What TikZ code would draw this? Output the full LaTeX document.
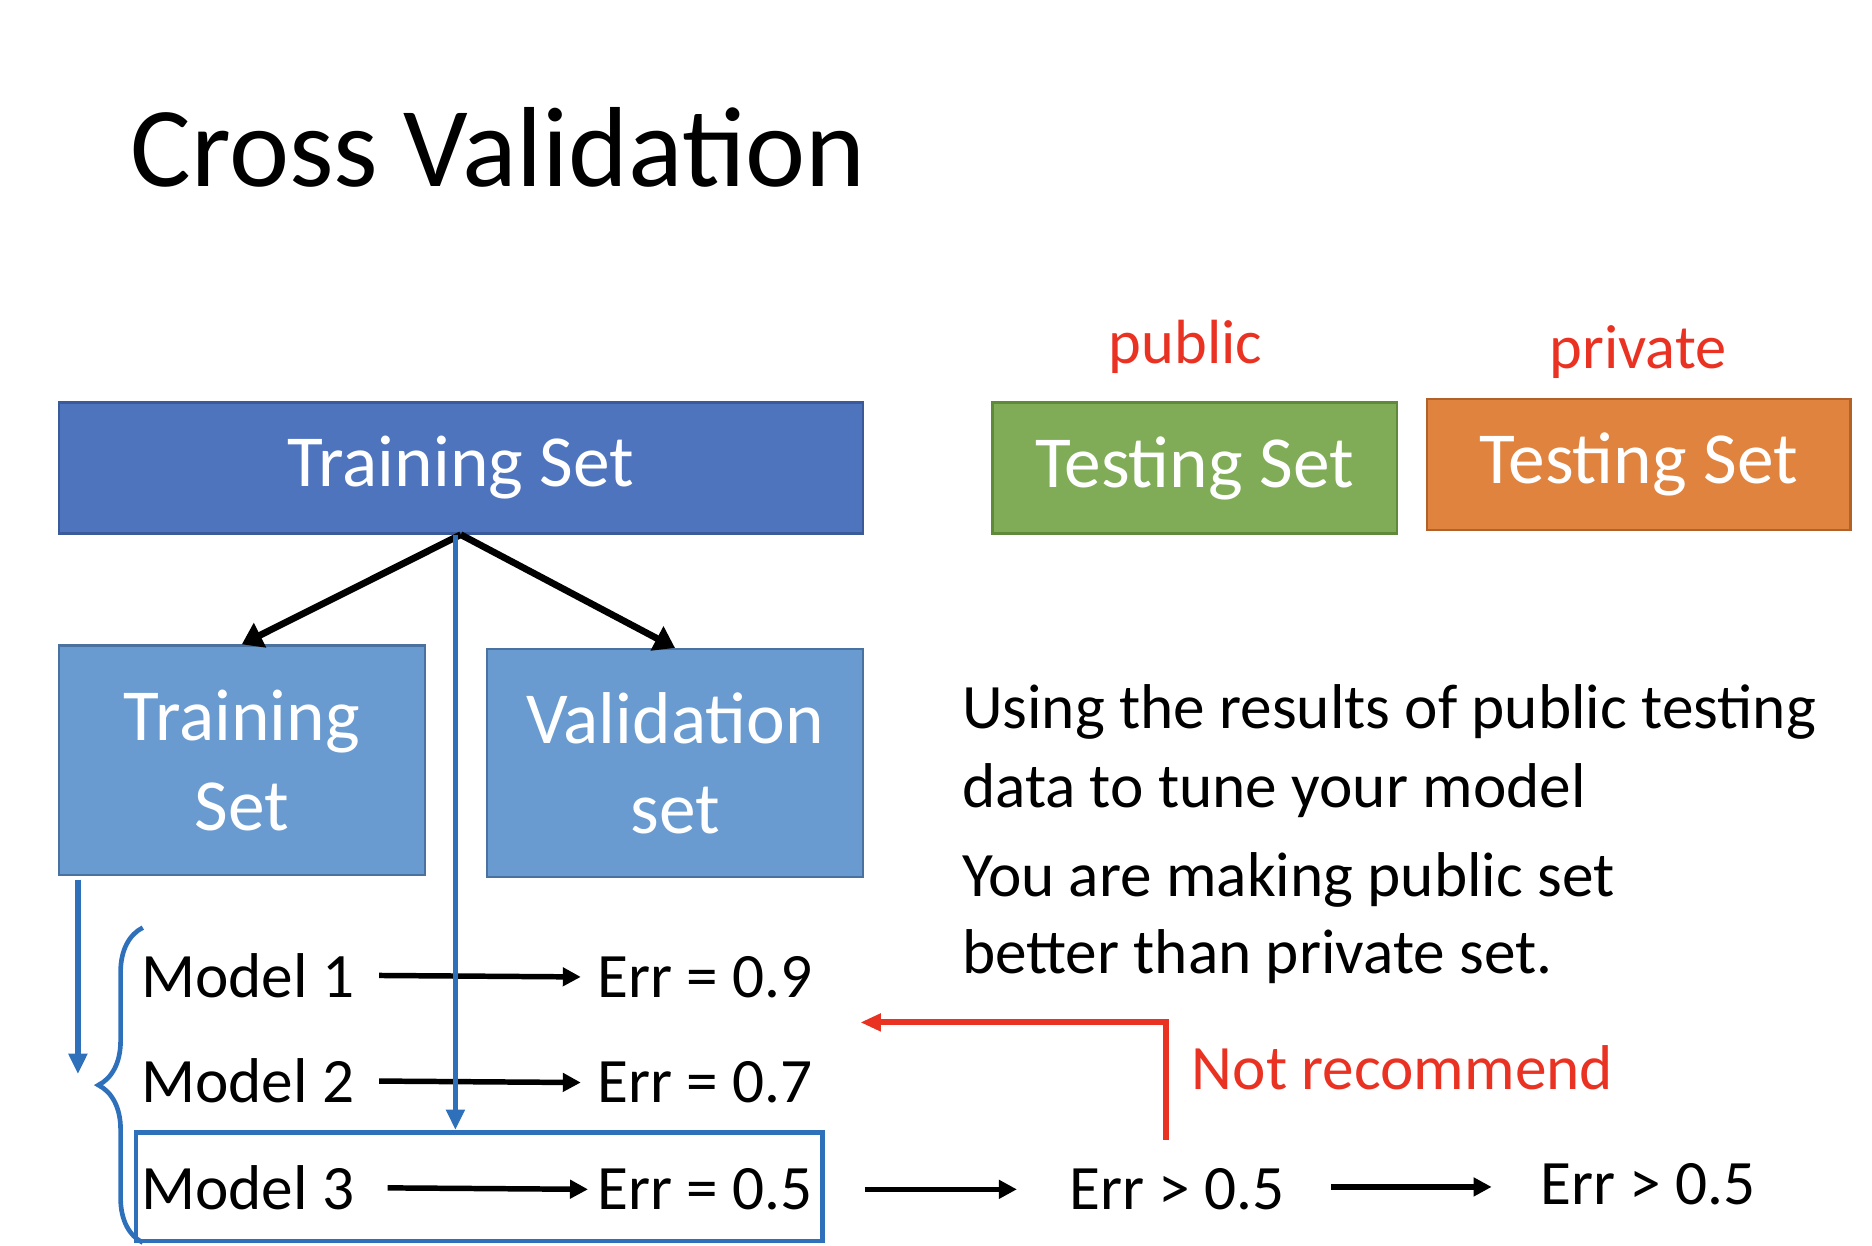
\documentclass[tikz,border=0pt]{standalone}
\usepackage{fontspec}
\setmainfont{Carlito}
\usepackage{tikz}
\usetikzlibrary{arrows.meta,decorations.pathreplacing}
\definecolor{train blue}{HTML}{4F74BE}
\definecolor{train edge}{HTML}{3A5A9A}
\definecolor{part blue}{HTML}{6A9BD0}
\definecolor{part edge}{HTML}{4A72A0}
\definecolor{public green}{HTML}{80AC57}
\definecolor{public edge}{HTML}{5E8A3A}
\definecolor{private orange}{HTML}{E0833F}
\definecolor{private edge}{HTML}{B0622A}
\definecolor{line blue}{HTML}{2E70BA}
\definecolor{note red}{HTML}{EA3223}

\begin{document}
\begin{tikzpicture}[
		setbox/.style = {draw, line width=0.6pt, text=white, align=center,
			font=\fontsize{17.4}{21.3}\selectfont},
		plain/.style = {inner sep=0, anchor=base west, font=\fontsize{15}{18}\selectfont},
		thin arrow/.style = {line width=1.3pt, -{Triangle[length=0.15cm, width=0.15cm]}}
	]
		\useasboundingbox (0, 0) rectangle (15.6, -10.383);
		% title
		\node[inner sep=0, anchor=base west, font=\fontsize{27}{30}\selectfont] (title) at (1.08, -1.55) {Cross Validation};
		% the three sets
		\node[setbox, fill=train blue, draw=train edge, minimum width=6.70cm, minimum height=1.09cm] (train) at (3.84, -3.90) {Training Set};
		\node[setbox, fill=public green, draw=public edge, minimum width=3.37cm, minimum height=1.09cm] (pubtest) at (9.955, -3.90) {Testing Set};
		\node[setbox, fill=private orange, draw=private edge, minimum width=3.53cm, minimum height=1.09cm] (privtest) at (13.655, -3.87) {Testing Set};
		\node[inner sep=0, anchor=base, text=note red, font=\fontsize{14.8}{18}\selectfont] (public) at (9.88, -3.03) {public};
		\node[inner sep=0, anchor=base, text=note red, font=\fontsize{14.8}{18}\selectfont] (private) at (13.65, -3.07) {private};
		% split of the training set
		\node[setbox, fill=part blue, draw=part edge, minimum width=3.05cm, minimum height=1.91cm] (subtrain) at (2.015, -6.335) {Training\\Set};
		\node[setbox, fill=part blue, draw=part edge, minimum width=3.13cm, minimum height=1.90cm] (valid) at (5.625, -6.36) {Validation\\set};
		\draw[line width=1.6pt, -{Triangle[length=0.17cm, width=0.22cm]}] (train.south) -- (subtrain.north);
		\draw[line width=1.6pt, -{Triangle[length=0.17cm, width=0.22cm]}] (train.south) -- (valid.north);
		% models
		\node[plain] (m1) at (1.17, -8.31) {Model 1};
		\node[plain] (m2) at (1.17, -9.19) {Model 2};
		\node[plain] (m3) at (1.17, -10.08) {Model 3};
		\node[plain] (e1) at (4.97, -8.31) {Err = 0.9};
		\node[plain] (e2) at (4.97, -9.19) {Err = 0.7};
		\node[plain] (e3) at (4.97, -10.08) {Err = 0.5};
		\draw[thin arrow] ([xshift=0.20cm]m1.east) -- ([xshift=-0.13cm]e1.west);
		\draw[thin arrow] ([xshift=0.20cm]m2.east) -- ([xshift=-0.13cm]e2.west);
		\draw[thin arrow] ([xshift=0.27cm]m3.east) -- ([xshift=-0.07cm]e3.west);
		\node[draw=line blue, line width=1.1pt, minimum width=5.72cm, minimum height=0.905cm] (chosen) at (3.992, -9.888) {};
		% blue lines
		\draw[line blue, line width=1.3pt, -{Triangle[length=0.17cm, width=0.15cm]}]
			([xshift=-0.045cm]train.south) -- ([xshift=-0.045cm]train.south |- chosen.north);
		\draw[line blue, line width=1.3pt, -{Triangle[length=0.17cm, width=0.15cm]}]
			([xshift=0.17cm, yshift=-0.03cm]subtrain.south west) -- ++(0, -1.62);
		\draw[line blue, line width=1.1pt, decorate, decoration={brace, amplitude=0.37cm}]
			(1.19, -10.355) -- (1.19, -7.73);
		% testing results
		\node[plain] (gt1) at (8.904, -10.08) {Err > 0.5};
		\node[plain] (gt2) at (12.83, -10.04) {Err > 0.5};
		\draw[thin arrow] ([xshift=0.43cm]e3.east) -- ([xshift=-0.43cm]gt1.west);
		\draw[thin arrow] ([xshift=0.38cm, yshift=0.02cm]gt1.east) -- ([xshift=-0.40cm, yshift=0.02cm]gt1.east -| gt2.west);
		% not recommended
		\coordinate (redfoot) at (9.715, -9.50);
		\coordinate (redtip) at (7.17, -8.52);
		\draw[note red, line width=1.4pt, -{Triangle[length=0.17cm, width=0.14cm]}] (redfoot) |- (redtip);
		\node[plain, text=note red] (notrec) at (9.925, -9.075) {Not recommend};
		% remark
		\node[plain] (txt1) at (8.01, -6.07) {Using the results of public testing};
		\node[plain] (txt2) at (8.01, -6.73) {data to tune your model};
		\node[plain] (txt3) at (8.01, -7.47) {You are making public set};
		\node[plain] (txt4) at (8.01, -8.11) {better than private set.};
	\end{tikzpicture}
\end{document}
